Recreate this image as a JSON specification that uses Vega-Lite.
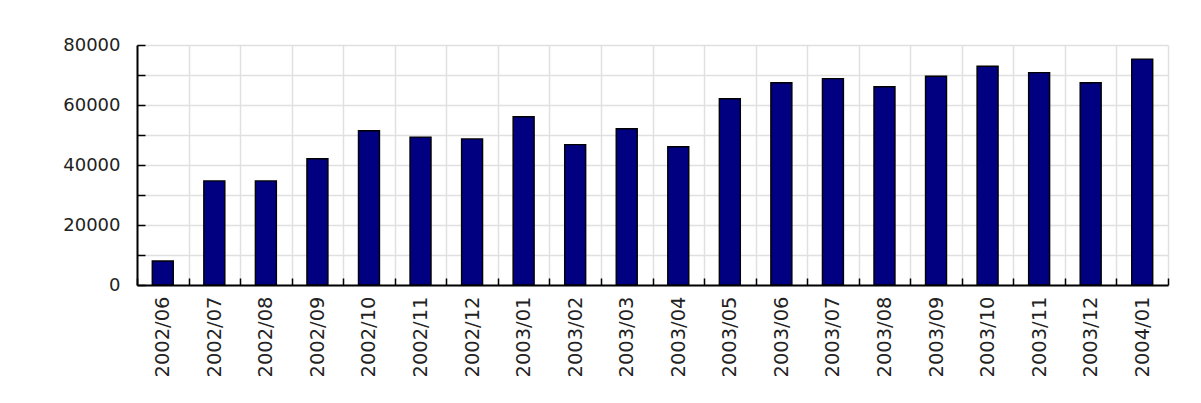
{
  "$schema": "https://vega.github.io/schema/vega-lite/v6.json",
  "autosize": "none",
  "width": 1031,
  "height": 240,
  "padding": {"left": 137, "top": 45, "right": 33, "bottom": 118},
  "background": "white",
  "config": {"view": {"stroke": null}},
  "data": {
    "values": [
      {"month": "2002/06", "value": 8000},
      {"month": "2002/07", "value": 34700},
      {"month": "2002/08", "value": 34700},
      {"month": "2002/09", "value": 42100},
      {"month": "2002/10", "value": 51400},
      {"month": "2002/11", "value": 49300},
      {"month": "2002/12", "value": 48700},
      {"month": "2003/01", "value": 56100},
      {"month": "2003/02", "value": 46800},
      {"month": "2003/03", "value": 52100},
      {"month": "2003/04", "value": 46100},
      {"month": "2003/05", "value": 62100},
      {"month": "2003/06", "value": 67400},
      {"month": "2003/07", "value": 68800},
      {"month": "2003/08", "value": 66100},
      {"month": "2003/09", "value": 69600},
      {"month": "2003/10", "value": 72900},
      {"month": "2003/11", "value": 70800},
      {"month": "2003/12", "value": 67400},
      {"month": "2004/01", "value": 75300}
    ]
  },
  "mark": {"type": "bar", "width": 21, "fill": "#000080", "stroke": "#000000", "strokeWidth": 1.4},
  "encoding": {
    "x": {
      "field": "month",
      "type": "ordinal",
      "sort": null,
      "scale": {"paddingInner": 0, "paddingOuter": 0},
      "axis": {
        "title": null,
        "tickBand": "extent",
        "grid": true,
        "gridColor": "#e0e0e0",
        "gridWidth": 1.5,
        "domainColor": "#000000",
        "domainWidth": 2,
        "tickColor": "#000000",
        "tickWidth": 1.5,
        "tickSize": -7,
        "labelAngle": -90,
        "labelAlign": "right",
        "labelBaseline": "middle",
        "labelPadding": 18,
        "labelFont": "DejaVu Sans",
        "labelFontSize": 19.5,
        "labelColor": "#222222"
      }
    },
    "y": {
      "field": "value",
      "type": "quantitative",
      "scale": {"domain": [0, 80000], "nice": false},
      "axis": {
        "title": null,
        "values": [0, 10000, 20000, 30000, 40000, 50000, 60000, 70000, 80000],
        "labelExpr": "datum.value % 20000 === 0 ? datum.value : ''",
        "grid": true,
        "gridColor": "#e0e0e0",
        "gridWidth": 1.5,
        "domainColor": "#000000",
        "domainWidth": 2,
        "tickColor": "#000000",
        "tickWidth": 1.5,
        "tickSize": -8,
        "labelPadding": 25,
        "labelFont": "DejaVu Sans",
        "labelFontSize": 18,
        "labelColor": "#222222",
        "labelBaseline": "middle"
      }
    }
  }
}
